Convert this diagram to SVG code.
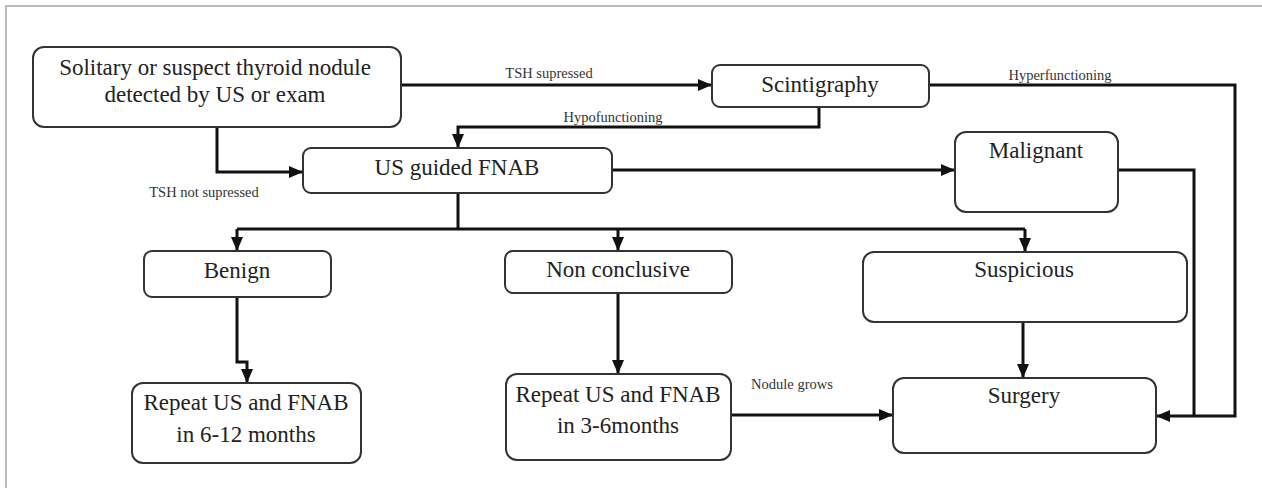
<svg xmlns="http://www.w3.org/2000/svg" width="1262" height="488" viewBox="0 0 1262 488">
<style>
.node rect{fill:#fff;stroke:#333;stroke-width:2}
.node text{font-size:23px;fill:#222;text-anchor:middle}
.lbl{font-size:14.5px;fill:#333;text-anchor:middle}
.conn path{fill:none;stroke:#111;stroke-width:3}
.t{font-family:'Liberation Serif','Times New Roman',Times,'DejaVu Serif',serif}
</style>
<defs>
<marker id="arr" markerUnits="userSpaceOnUse" markerWidth="14" markerHeight="14" viewBox="0 0 14 14" refX="13" refY="7" orient="auto">
<path d="M0,1 L14,7 L0,13 Z" fill="#111"/>
</marker>
</defs>
<rect width="1262" height="488" fill="#fff"/>
<path d="M6,488 V6 H1262" fill="none" stroke="#bbb" stroke-width="2"/>

<g class="conn">
<path d="M401,85 H711" marker-end="url(#arr)"/>
<path d="M819,107 V127 H458 V147" marker-end="url(#arr)"/>
<path d="M929,85 H1235 V416 H1157" marker-end="url(#arr)"/>
<path d="M1118,170 H1194 V416"/>
<path d="M217,127 V172 H302" marker-end="url(#arr)"/>
<path d="M612,170 H954" marker-end="url(#arr)"/>
<path d="M458,193 V229"/>
<path d="M237,229 H1025"/>
<path d="M237,229 V250" marker-end="url(#arr)"/>
<path d="M618,229 V250" marker-end="url(#arr)"/>
<path d="M1025,229 V251" marker-end="url(#arr)"/>
<path d="M237,297 V362 H247 V382" marker-end="url(#arr)"/>
<path d="M618,293 V373" marker-end="url(#arr)"/>
<path d="M1023,322 V377" marker-end="url(#arr)"/>
<path d="M731,415 H892" marker-end="url(#arr)"/>
</g>

<g class="t">
<text class="lbl" x="549" y="78">TSH supressed</text>
<text class="lbl" x="613" y="122">Hypofunctioning</text>
<text class="lbl" x="1060" y="80">Hyperfunctioning</text>
<text class="lbl" x="204" y="197">TSH not  supressed</text>
<text class="lbl" x="792" y="389">Nodule grows</text>

<g id="n-start" class="node"><rect x="33" y="47" width="368" height="80" rx="11"/><text x="215" y="75">Solitary or suspect  thyroid nodule</text><text x="215" y="102">detected by US or exam</text></g>
<g id="n-fnab" class="node"><rect x="303" y="148" width="309" height="45" rx="8"/><text x="457" y="175">US guided FNAB</text></g>
<g id="n-scint" class="node"><rect x="712" y="65" width="217" height="42" rx="8"/><text x="820" y="92">Scintigraphy</text></g>
<g id="n-malig" class="node"><rect x="955" y="132" width="163" height="80" rx="11"/><text x="1036" y="158">Malignant</text></g>
<g id="n-benign" class="node"><rect x="144" y="251" width="187" height="46" rx="8"/><text x="237" y="278">Benign</text></g>
<g id="n-noncon" class="node"><rect x="505" y="251" width="227" height="42" rx="8"/><text x="618" y="277">Non conclusive</text></g>
<g id="n-susp" class="node"><rect x="863" y="252" width="324" height="70" rx="11"/><text x="1024" y="277">Suspicious</text></g>
<g id="n-rep612" class="node"><rect x="132" y="383" width="229" height="80" rx="11"/><text x="246" y="410">Repeat US and FNAB</text><text x="246" y="442">in 6-12 months</text></g>
<g id="n-rep36" class="node"><rect x="506" y="374" width="225" height="86" rx="11"/><text x="618" y="402">Repeat US and FNAB</text><text x="618" y="433">in 3-6months</text></g>
<g id="n-surg" class="node"><rect x="893" y="378" width="263" height="75" rx="11"/><text x="1024" y="403">Surgery</text></g>
</g>
</svg>
